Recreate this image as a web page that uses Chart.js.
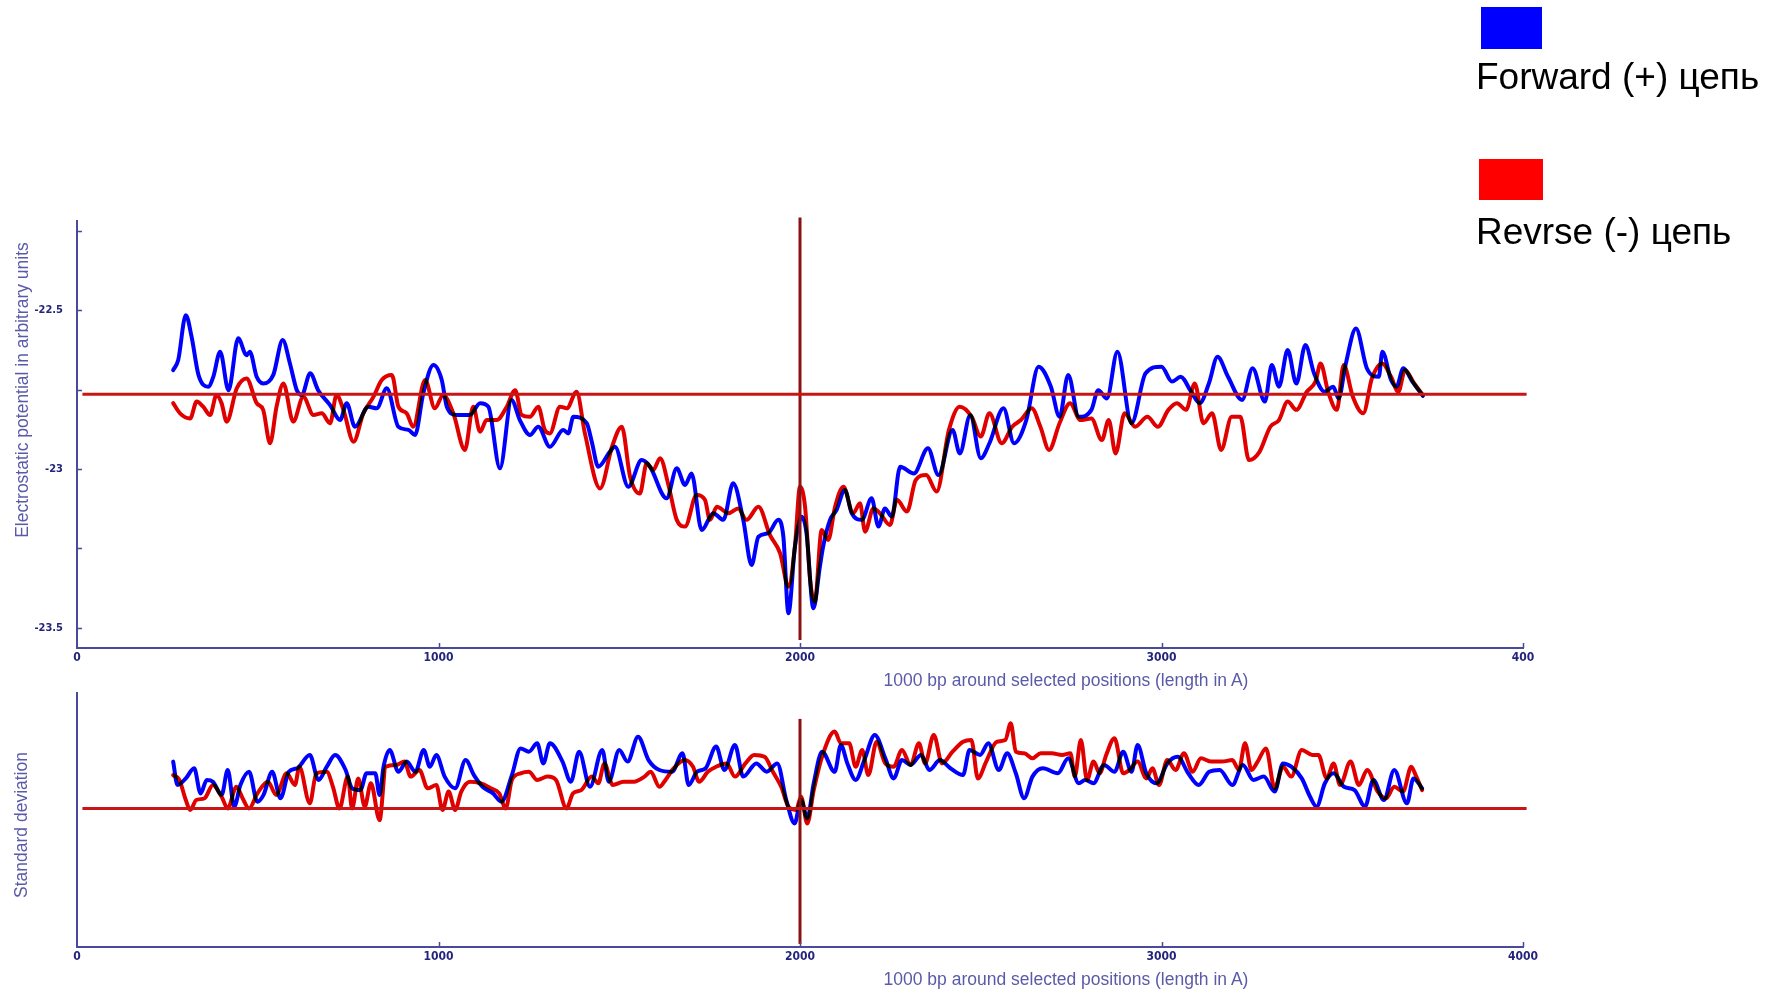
<!DOCTYPE html>
<html>
<head>
<meta charset="utf-8">
<script src="https://cdn.jsdelivr.net/npm/chart.js@4.4.1/dist/chart.umd.min.js"></script>
<style>
  html, body { margin: 0; padding: 0; background: #fff; }
  body { width: 1767px; height: 992px; position: relative; overflow: hidden;
         font-family: "Liberation Sans", Arial, sans-serif; }
  canvas { position: absolute; left: 0; }
  #potCanvas { top: 0; }
  #sdCanvas { top: 670px; }
  .swatch { position: absolute; }
  .legendText { position: absolute; font-size: 37px; line-height: 1; color: #000; white-space: nowrap; }
  .axisTitle { position: absolute; font-size: 17.5px; line-height: 1; color: #5a5aa8; white-space: nowrap; }
  .xTitle { transform: translateX(-50%); }
  .yTitle { transform: translate(-50%, -50%) rotate(-90deg); }
</style>
</head>
<body>
<canvas id="potCanvas" width="1767" height="670"></canvas>
<canvas id="sdCanvas" width="1767" height="322"></canvas>

<div class="swatch" style="left:1481px;top:7px;width:61px;height:42px;background:#0000ff"></div>
<div class="legendText" style="left:1476px;top:58px">Forward (+) цепь</div>
<div class="swatch" style="left:1479px;top:159px;width:64px;height:41px;background:#ff0000"></div>
<div class="legendText" style="left:1476px;top:213px">Revrse (-) цепь</div>

<div class="axisTitle yTitle" style="left:22.5px;top:390px">Electrostatic potential in arbitrary units</div>
<div class="axisTitle xTitle" style="left:1066px;top:672px">1000 bp around selected positions (length in A)</div>
<div class="axisTitle yTitle" style="left:21.5px;top:825px">Standard deviation</div>
<div class="axisTitle xTitle" style="left:1066px;top:971px">1000 bp around selected positions (length in A)</div>

<script>
// Electrostatic potential profile, forward (+) strand: [position, potential]
const forwardPotential = [
  [266,-22.689],[280,-22.657],[301,-22.516],[317,-22.584],[336,-22.704],[363,-22.741],[377,-22.710],
  [396,-22.631],[419,-22.752],[446,-22.589],[469,-22.642],[478,-22.631],[497,-22.710],[515,-22.731],
  [543,-22.704],[569,-22.594],[589,-22.668],[608,-22.752],[622,-22.767],[645,-22.699],[667,-22.752],
  [700,-22.799],[728,-22.846],[746,-22.793],[769,-22.867],[806,-22.804],[829,-22.809],[857,-22.746],
  [889,-22.867],[917,-22.877],[935,-22.893],[958,-22.762],[986,-22.673],[1009,-22.720],[1023,-22.804],
  [1050,-22.830],[1087,-22.830],[1115,-22.793],[1138,-22.804],[1170,-22.998],[1202,-22.783],[1225,-22.846],
  [1253,-22.893],[1276,-22.867],[1308,-22.930],[1345,-22.877],[1359,-22.888],[1373,-22.836],[1410,-22.856],
  [1424,-22.914],[1442,-22.993],[1474,-22.946],[1488,-22.930],[1525,-23.056],[1562,-22.972],[1585,-22.993],
  [1631,-23.092],[1659,-22.998],[1682,-23.050],[1700,-23.014],[1728,-23.192],[1760,-23.139],[1788,-23.160],
  [1815,-23.045],[1843,-23.160],[1866,-23.302],[1885,-23.213],[1912,-23.202],[1940,-23.160],[1954,-23.213],
  [1968,-23.454],[1986,-23.244],[2005,-23.150],[2018,-23.202],[2037,-23.438],[2055,-23.307],[2064,-23.244],
  [2083,-23.160],[2101,-23.129],[2124,-23.066],[2143,-23.139],[2171,-23.160],[2198,-23.092],[2217,-23.181],
  [2235,-23.124],[2254,-23.150],[2277,-22.993],[2315,-23.014],[2354,-22.935],[2383,-23.019],[2422,-22.877],
  [2442,-22.951],[2471,-22.830],[2500,-22.966],[2524,-22.919],[2563,-22.809],[2592,-22.919],[2626,-22.846],
  [2660,-22.678],[2694,-22.741],[2718,-22.836],[2742,-22.704],[2771,-22.836],[2806,-22.814],[2825,-22.752],
  [2849,-22.778],[2878,-22.631],[2917,-22.856],[2956,-22.699],[3000,-22.678],[3029,-22.725],[3053,-22.710],
  [3082,-22.757],[3106,-22.793],[3131,-22.731],[3155,-22.647],[3184,-22.710],[3223,-22.783],[3252,-22.683],
  [3286,-22.788],[3305,-22.673],[3325,-22.741],[3349,-22.626],[3373,-22.731],[3398,-22.610],[3422,-22.699],
  [3451,-22.757],[3475,-22.741],[3490,-22.778],[3509,-22.673],[3538,-22.558],[3568,-22.683],[3601,-22.710],
  [3611,-22.631],[3635,-22.720],[3650,-22.741],[3669,-22.683],[3694,-22.725],[3723,-22.770]
];

// Electrostatic potential profile, reverse (-) strand
const reversePotential = [
  [266,-22.793],[285,-22.825],[313,-22.841],[331,-22.788],[349,-22.804],[368,-22.830],[386,-22.767],
  [400,-22.793],[414,-22.851],[442,-22.746],[469,-22.715],[497,-22.793],[515,-22.814],[534,-22.919],
  [552,-22.804],[571,-22.731],[598,-22.851],[626,-22.773],[654,-22.830],[677,-22.825],[700,-22.856],
  [718,-22.767],[737,-22.814],[765,-22.914],[792,-22.825],[820,-22.773],[843,-22.720],[871,-22.704],
  [889,-22.804],[912,-22.825],[930,-22.867],[963,-22.720],[990,-22.809],[1013,-22.767],[1041,-22.825],
  [1073,-22.940],[1096,-22.804],[1115,-22.883],[1133,-22.846],[1161,-22.846],[1189,-22.804],[1212,-22.752],
  [1230,-22.830],[1253,-22.836],[1276,-22.804],[1294,-22.877],[1308,-22.888],[1336,-22.804],[1355,-22.809],
  [1382,-22.757],[1405,-22.888],[1447,-23.061],[1480,-22.930],[1507,-22.867],[1530,-23.024],[1557,-23.077],
  [1576,-22.982],[1594,-23.003],[1613,-22.966],[1636,-23.050],[1659,-23.160],[1682,-23.181],[1714,-23.082],
  [1737,-23.097],[1751,-23.160],[1770,-23.119],[1802,-23.139],[1829,-23.124],[1852,-23.160],[1885,-23.119],
  [1917,-23.208],[1945,-23.265],[1968,-23.370],[1986,-23.244],[2000,-23.056],[2014,-23.119],[2028,-23.349],
  [2041,-23.417],[2060,-23.192],[2078,-23.223],[2097,-23.119],[2120,-23.056],[2147,-23.139],[2166,-23.108],
  [2180,-23.197],[2203,-23.124],[2221,-23.139],[2249,-23.176],[2268,-23.097],[2296,-23.134],[2320,-23.035],
  [2349,-23.019],[2378,-23.071],[2412,-22.877],[2442,-22.804],[2475,-22.836],[2500,-22.898],[2524,-22.825],
  [2558,-22.919],[2587,-22.867],[2611,-22.846],[2641,-22.809],[2665,-22.867],[2689,-22.940],[2718,-22.856],
  [2747,-22.793],[2776,-22.846],[2806,-22.841],[2835,-22.909],[2854,-22.846],[2873,-22.951],[2898,-22.825],
  [2927,-22.867],[2961,-22.836],[2990,-22.867],[3019,-22.814],[3043,-22.793],[3068,-22.814],[3092,-22.731],
  [3116,-22.856],[3140,-22.825],[3165,-22.940],[3194,-22.836],[3218,-22.836],[3242,-22.972],[3271,-22.946],
  [3301,-22.867],[3325,-22.846],[3349,-22.788],[3373,-22.814],[3402,-22.757],[3426,-22.725],[3440,-22.668],
  [3461,-22.757],[3485,-22.814],[3504,-22.673],[3529,-22.772],[3558,-22.825],[3582,-22.715],[3611,-22.668],
  [3635,-22.710],[3655,-22.757],[3674,-22.689],[3699,-22.731],[3723,-22.767]
];

// Standard deviation profile, forward (+) strand (relative units)
const forwardDeviation = [
  [266,0.729],[278,0.637],[301,0.663],[324,0.703],[342,0.604],[359,0.657],[376,0.650],[400,0.598],
  [417,0.696],[435,0.552],[452,0.637],[476,0.689],[499,0.571],[516,0.598],[540,0.689],[563,0.585],
  [586,0.689],[609,0.703],[644,0.755],[668,0.657],[691,0.709],[714,0.755],[743,0.696],[761,0.624],
  [784,0.617],[801,0.683],[825,0.683],[837,0.598],[848,0.709],[865,0.775],[889,0.689],[912,0.729],
  [936,0.689],[959,0.775],[976,0.709],[994,0.755],[1017,0.670],[1046,0.624],[1075,0.735],[1098,0.676],
  [1122,0.630],[1151,0.604],[1174,0.571],[1203,0.676],[1227,0.781],[1250,0.768],[1273,0.801],[1290,0.722],
  [1308,0.801],[1343,0.729],[1366,0.650],[1389,0.768],[1419,0.630],[1453,0.775],[1471,0.650],[1500,0.775],
  [1523,0.729],[1552,0.827],[1581,0.735],[1611,0.696],[1646,0.689],[1675,0.762],[1692,0.637],[1715,0.689],
  [1739,0.703],[1768,0.788],[1791,0.696],[1820,0.794],[1843,0.670],[1879,0.722],[1908,0.689],[1937,0.722],
  [1962,0.578],[1985,0.486],[2003,0.578],[2020,0.506],[2038,0.644],[2061,0.768],[2096,0.689],[2113,0.794],
  [2131,0.722],[2154,0.657],[2178,0.735],[2207,0.834],[2236,0.742],[2259,0.663],[2282,0.735],[2306,0.716],
  [2335,0.755],[2358,0.696],[2387,0.735],[2416,0.703],[2451,0.676],[2469,0.775],[2498,0.755],[2521,0.801],
  [2550,0.696],[2573,0.762],[2597,0.683],[2620,0.585],[2643,0.670],[2672,0.703],[2713,0.683],[2742,0.742],
  [2771,0.644],[2789,0.657],[2812,0.644],[2841,0.716],[2870,0.689],[2894,0.768],[2917,0.689],[2934,0.794],
  [2958,0.683],[2987,0.644],[3016,0.722],[3045,0.748],[3074,0.683],[3103,0.637],[3132,0.689],[3161,0.696],
  [3196,0.637],[3225,0.716],[3254,0.657],[3283,0.670],[3313,0.611],[3336,0.722],[3359,0.709],[3388,0.663],
  [3411,0.591],[3429,0.552],[3452,0.644],[3476,0.683],[3505,0.630],[3534,0.617],[3563,0.552],[3586,0.657],
  [3615,0.578],[3644,0.696],[3679,0.565],[3697,0.663],[3721,0.624]
];

// Standard deviation profile, reverse (-) strand
const reverseDeviation = [
  [266,0.676],[283,0.657],[301,0.578],[313,0.539],[330,0.578],[353,0.585],[376,0.637],[400,0.591],
  [417,0.545],[441,0.630],[458,0.585],[476,0.545],[499,0.604],[528,0.650],[551,0.598],[580,0.683],
  [603,0.637],[615,0.709],[644,0.565],[662,0.683],[691,0.689],[708,0.630],[726,0.545],[749,0.670],
  [761,0.545],[778,0.663],[796,0.552],[813,0.644],[837,0.499],[854,0.709],[883,0.716],[906,0.729],
  [923,0.670],[947,0.696],[970,0.624],[994,0.637],[1011,0.539],[1028,0.611],[1046,0.539],[1063,0.611],
  [1087,0.650],[1116,0.644],[1145,0.624],[1168,0.604],[1186,0.545],[1203,0.657],[1227,0.683],[1250,0.689],
  [1273,0.657],[1302,0.670],[1325,0.657],[1354,0.545],[1372,0.604],[1395,0.617],[1424,0.670],[1442,0.644],
  [1459,0.722],[1482,0.637],[1512,0.650],[1541,0.650],[1570,0.670],[1587,0.689],[1611,0.630],[1628,0.657],
  [1651,0.703],[1681,0.735],[1704,0.709],[1721,0.650],[1745,0.689],[1768,0.709],[1797,0.722],[1820,0.670],
  [1849,0.722],[1873,0.755],[1902,0.748],[1925,0.689],[1948,0.630],[1968,0.552],[1989,0.539],[2003,0.591],
  [2020,0.486],[2038,0.617],[2061,0.748],[2096,0.847],[2113,0.801],[2136,0.801],[2154,0.709],[2172,0.775],
  [2189,0.676],[2212,0.807],[2236,0.722],[2259,0.709],[2282,0.775],[2306,0.716],[2329,0.801],[2346,0.722],
  [2370,0.834],[2393,0.722],[2422,0.768],[2451,0.807],[2474,0.814],[2492,0.663],[2515,0.729],[2544,0.807],
  [2568,0.814],[2583,0.880],[2597,0.768],[2620,0.762],[2643,0.742],[2666,0.762],[2696,0.762],[2725,0.755],
  [2748,0.762],[2760,0.670],[2777,0.814],[2794,0.657],[2812,0.729],[2829,0.683],[2847,0.755],[2870,0.821],
  [2894,0.683],[2911,0.696],[2934,0.729],[2958,0.663],[2975,0.703],[2993,0.637],[3016,0.735],[3039,0.696],
  [3062,0.762],[3086,0.689],[3109,0.742],[3138,0.729],[3167,0.729],[3196,0.735],[3214,0.696],[3231,0.801],
  [3249,0.696],[3266,0.729],[3289,0.781],[3313,0.624],[3336,0.709],[3359,0.670],[3388,0.775],[3417,0.755],
  [3434,0.755],[3457,0.663],[3476,0.722],[3494,0.637],[3523,0.729],[3546,0.637],[3569,0.696],[3598,0.611],
  [3621,0.585],[3644,0.630],[3668,0.611],[3691,0.709],[3703,0.676],[3721,0.617]
];

// Axes and guide lines
const xTickValues = [0, 1000, 2000, 3000, 4000];
const potXTickLabels = ['0', '1000', '2000', '3000', '400'];
const sdXTickLabels = ['0', '1000', '2000', '3000', '4000'];
const potYTickValues = [-23.5, -23, -22.5];
const potYTickLabels = ['-23.5', '-23', '-22.5'];
const potYMinorTicks = [-23.25, -22.75, -22.25];
const potRange = [-23.563, -22.219];
const sdRange = [0, 1];
const xRange = [0, 4000];
const centerPosition = 2000;
const levelSpan = [15, 4010];
const potLevel = -22.765;
const sdLevel = 0.545;
const potCenterSpan = [-23.538, -22.209];
const sdCenterSpan = [0.012, 0.897];

const AXIS_COLOR = '#4a4a9c';
const LABEL_COLOR = '#24247c';
const FWD_COLOR = '#0000ff';
const REV_COLOR = '#e00000';
const LEVEL_COLOR = '#c81616';
const CENTER_COLOR = '#8c1212';
const TICK_FONT = { family: "'Liberation Sans Narrow', 'DejaVu Sans Condensed', 'Liberation Sans', sans-serif", size: 12, weight: 'bold' };

const toPoints = pairs => pairs.map(([x, y]) => ({ x, y }));

// White backdrop, then the strand curves are multiplied so overlaps turn dark
const paperPlugin = {
  id: 'paper',
  beforeDraw(chart) {
    const { ctx, width, height } = chart;
    ctx.save();
    ctx.fillStyle = '#ffffff';
    ctx.fillRect(0, 0, width, height);
    ctx.restore();
  }
};
const blendPlugin = {
  id: 'blend',
  beforeDatasetDraw(chart, args) {
    if (chart.data.datasets[args.index].multiply) {
      chart.ctx.save();
      chart.ctx.globalCompositeOperation = 'multiply';
    }
  },
  afterDatasetDraw(chart, args) {
    if (chart.data.datasets[args.index].multiply) chart.ctx.restore();
  }
};
// Short tick marks pointing into the plot
const inwardTicksPlugin = {
  id: 'inwardTicks',
  afterDraw(chart, _args, opts) {
    const { ctx, chartArea, scales } = chart;
    ctx.save();
    ctx.strokeStyle = AXIS_COLOR;
    ctx.lineWidth = 1.5;
    ctx.beginPath();
    (opts.y || []).forEach(v => {
      const py = Math.round(scales.y.getPixelForValue(v)) + 0.5;
      ctx.moveTo(chartArea.left, py);
      ctx.lineTo(chartArea.left + 5, py);
    });
    (opts.x || []).forEach(v => {
      const px = Math.round(scales.x.getPixelForValue(v)) + 0.5;
      ctx.moveTo(px, chartArea.bottom);
      ctx.lineTo(px, chartArea.bottom - 5);
    });
    ctx.stroke();
    ctx.restore();
  }
};

function strandDataset(pairs, color) {
  return {
    data: toPoints(pairs), borderColor: color, borderWidth: 4,
    pointRadius: 0, cubicInterpolationMode: 'monotone', fill: false,
    borderCapStyle: 'round', borderJoinStyle: 'round', order: 2, multiply: true
  };
}
function guideDataset(points, color) {
  return {
    data: points, borderColor: color, borderWidth: 3, pointRadius: 0,
    tension: 0, fill: false, clip: false, order: 0
  };
}

function makePanel(canvasId, cfg) {
  return new Chart(document.getElementById(canvasId), {
    type: 'line',
    data: {
      datasets: [
        strandDataset(cfg.forward, FWD_COLOR),
        strandDataset(cfg.reverse, REV_COLOR),
        guideDataset([{ x: levelSpan[0], y: cfg.level }, { x: levelSpan[1], y: cfg.level }], LEVEL_COLOR),
        guideDataset([{ x: centerPosition, y: cfg.centerSpan[0] }, { x: centerPosition, y: cfg.centerSpan[1] }], CENTER_COLOR)
      ]
    },
    options: {
      responsive: false,
      animation: false,
      devicePixelRatio: 1,
      layout: { padding: cfg.padding },
      plugins: {
        legend: { display: false },
        tooltip: { enabled: false },
        inwardTicks: { x: xTickValues.slice(1), y: cfg.yTickMarks }
      },
      scales: {
        x: {
          type: 'linear', min: xRange[0], max: xRange[1],
          afterBuildTicks: s => { s.ticks = xTickValues.map(value => ({ value })); },
          afterFit: s => { s.height = 22; },
          ticks: {
            autoSkip: false, maxRotation: 0, padding: 3, color: LABEL_COLOR, font: TICK_FONT,
            callback: (v, i) => cfg.xLabels[i]
          },
          grid: { display: false, drawTicks: false },
          border: { display: true, color: AXIS_COLOR, width: 2 }
        },
        y: {
          type: 'linear', min: cfg.yRange[0], max: cfg.yRange[1],
          afterBuildTicks: s => { s.ticks = cfg.yLabelValues.map(value => ({ value })); },
          afterFit: s => { s.width = 77; },
          ticks: {
            display: cfg.yLabelValues.length > 0, autoSkip: false, padding: 14,
            color: LABEL_COLOR, font: { ...TICK_FONT, size: 11 },
            callback: (v, i) => cfg.yLabels[i]
          },
          grid: { display: false, drawTicks: false },
          border: { display: true, color: AXIS_COLOR, width: 2 }
        }
      }
    },
    plugins: [paperPlugin, blendPlugin, inwardTicksPlugin]
  });
}

makePanel('potCanvas', {
  forward: forwardPotential, reverse: reversePotential,
  level: potLevel, centerSpan: potCenterSpan, yRange: potRange,
  yLabelValues: potYTickValues, yLabels: potYTickLabels,
  yTickMarks: potYTickValues.concat(potYMinorTicks),
  xLabels: potXTickLabels,
  padding: { left: 0, top: 220.7, right: 244, bottom: 0 }
});

makePanel('sdCanvas', {
  forward: forwardDeviation, reverse: reverseDeviation,
  level: sdLevel, centerSpan: sdCenterSpan, yRange: sdRange,
  yLabelValues: [], yLabels: [], yTickMarks: [],
  xLabels: sdXTickLabels,
  padding: { left: 0, top: 22.7, right: 244, bottom: 23 }
});
</script>
</body>
</html>
